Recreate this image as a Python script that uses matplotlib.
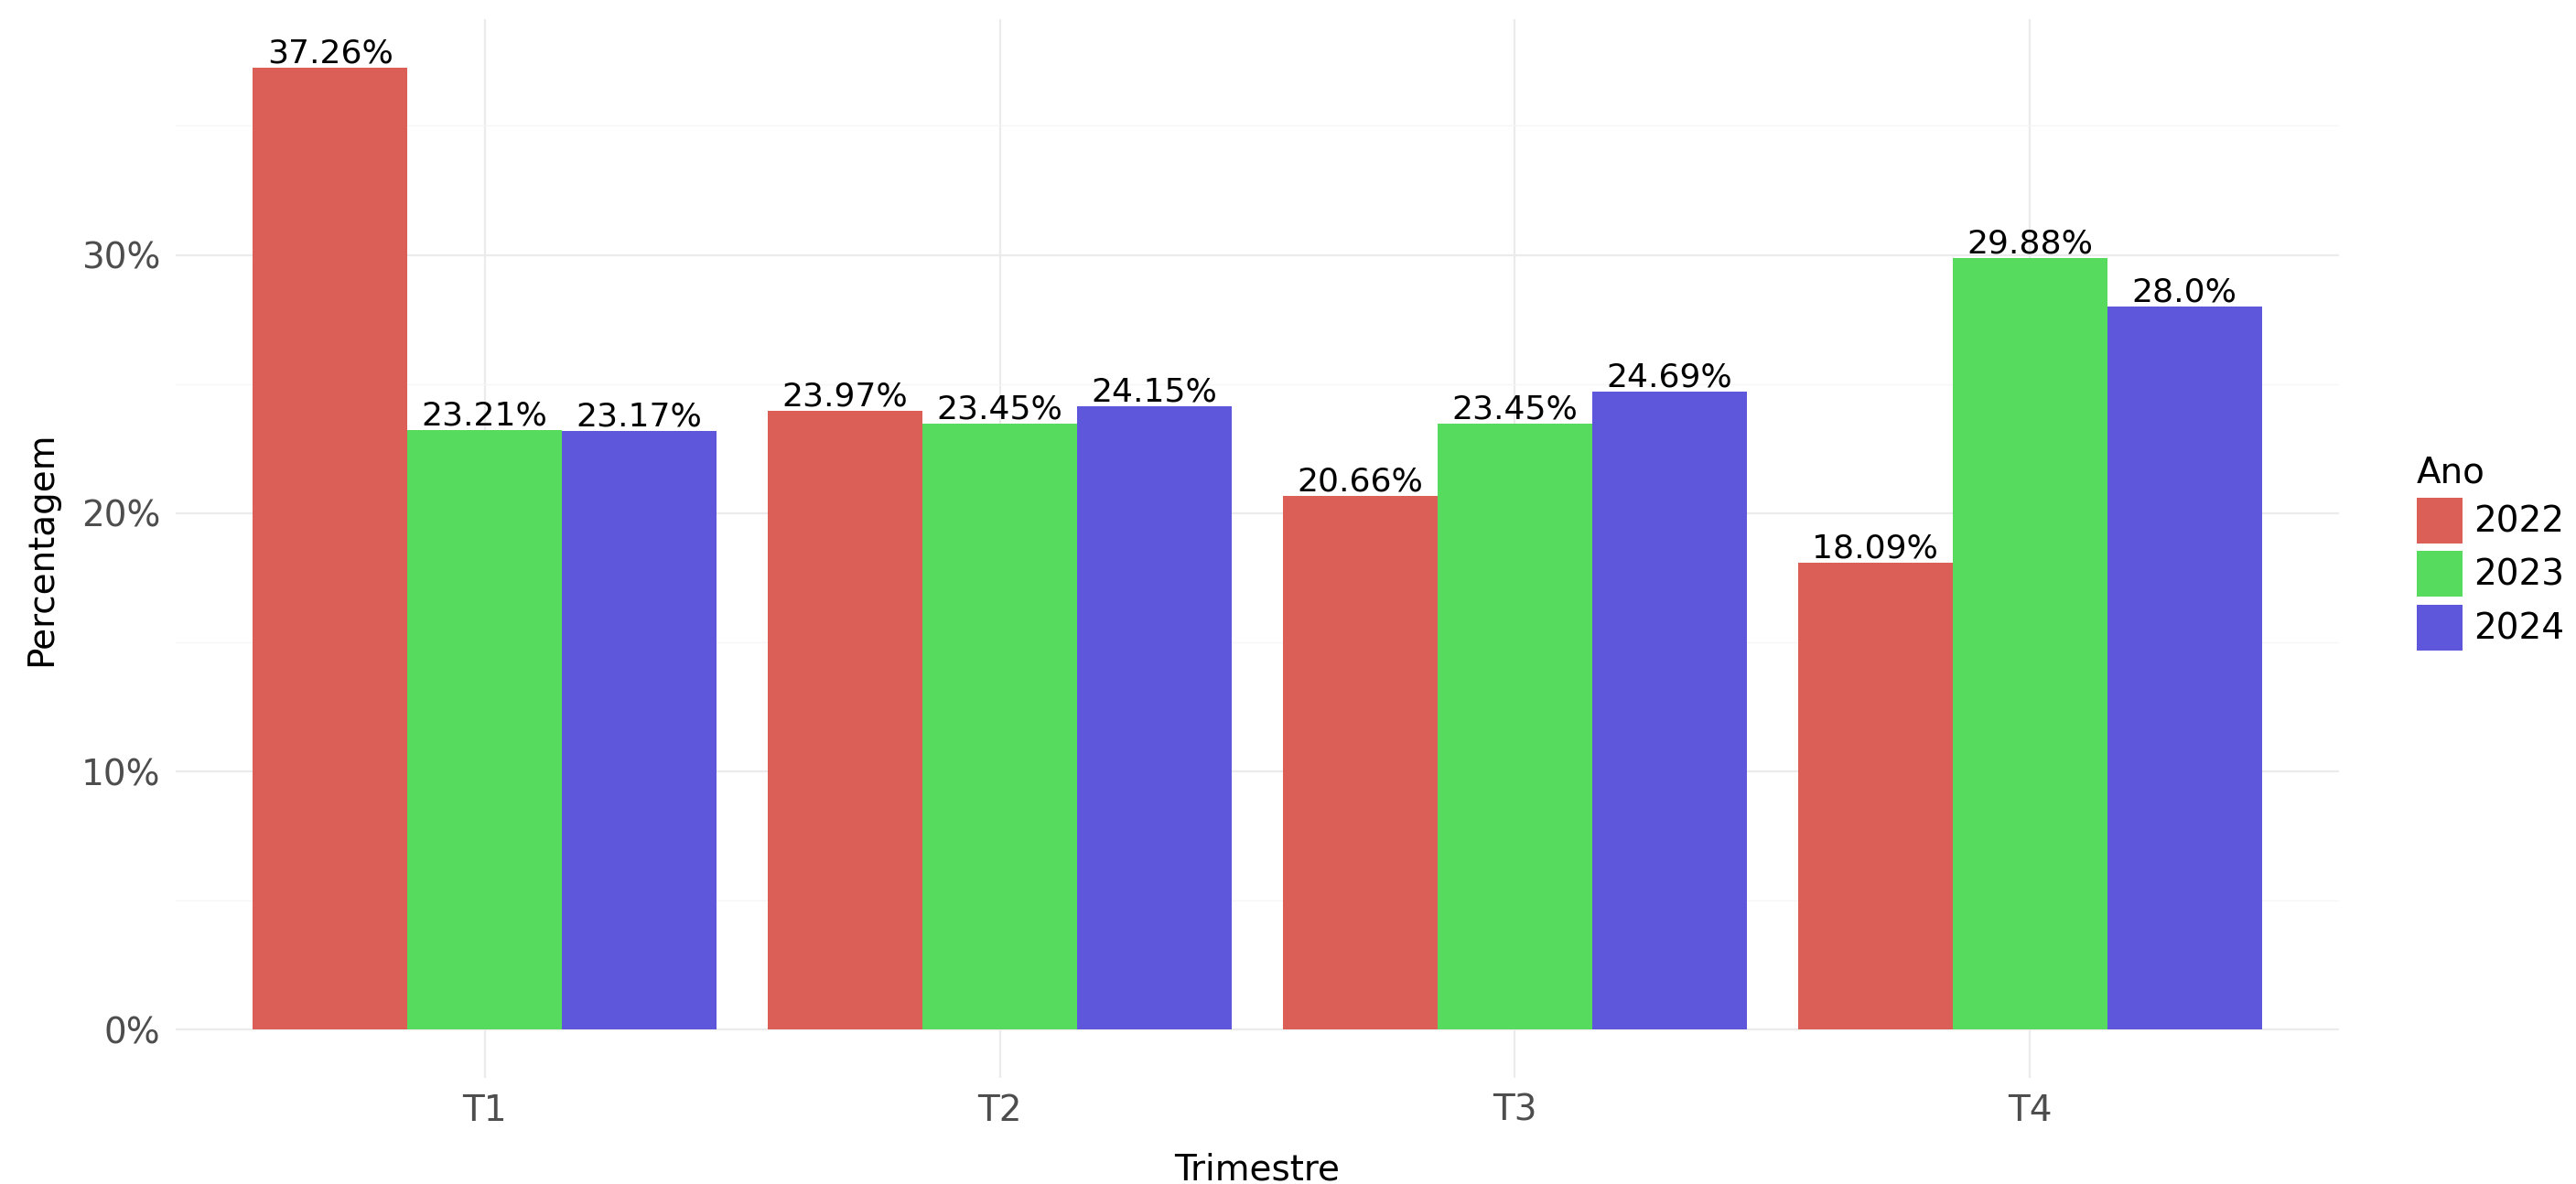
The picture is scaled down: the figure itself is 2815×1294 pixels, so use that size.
#!/usr/bin/env python3
"""Percentagem por trimestre e ano (barras agrupadas)."""

import matplotlib

matplotlib.use("Agg")
import matplotlib.pyplot as plt
import numpy as np
from matplotlib.ticker import FixedLocator, FuncFormatter

trimestres = ["T1", "T2", "T3", "T4"]
anos = ["2022", "2023", "2024"]
pct_2022 = [37.26, 23.97, 20.66, 18.09]
pct_2023 = [23.21, 23.45, 23.45, 29.88]
pct_2024 = [23.17, 24.15, 24.69, 28.0]
cores = ["#db5f57", "#57db5f", "#5f57db"]

W, H, DPI = 2815, 1294, 100

plt.rcParams["font.family"] = ["DejaVu Sans"]


def main() -> None:
    series = [pct_2022, pct_2023, pct_2024]
    fig = plt.figure(figsize=(W / DPI, H / DPI), dpi=DPI)
    left, right, top, bottom = 192, 2556, 21, 1178
    ax = fig.add_axes([left / W, 1 - bottom / H, (right - left) / W, (bottom - top) / H])

    x = np.arange(1, len(trimestres) + 1)
    width = 0.9 / len(anos)
    for i, (ano, vals, cor) in enumerate(zip(anos, series, cores)):
        pos = x + (i - 1) * width
        ax.bar(pos, vals, width=width, color=cor, label=ano, zorder=3, linewidth=0)
        for px, v in zip(pos, vals):
            ax.annotate(f"{v}%", (px, v), xytext=(0, 4), textcoords="offset points",
                        ha="center", va="baseline", fontsize=26, color="black", zorder=4)

    ymax = max(max(s) for s in series)
    pad = ymax * 0.05
    ax.set_ylim(-pad, ymax + pad)
    ax.set_xlim(0.4, len(trimestres) + 0.6)

    ax.yaxis.set_major_locator(FixedLocator([0, 10, 20, 30]))
    ax.yaxis.set_minor_locator(FixedLocator([5, 15, 25, 35]))
    ax.yaxis.set_major_formatter(FuncFormatter(lambda v, _: f"{v:.0f}%"))
    ax.set_xticks(x)
    ax.set_xticklabels(trimestres)

    ax.grid(True, which="major", color="#ebebeb", linewidth=1.6, zorder=0)
    ax.grid(True, which="minor", axis="y", color="#f6f6f6", linewidth=0.9, zorder=0)
    for s in ax.spines.values():
        s.set_visible(False)
    ax.tick_params(axis="both", which="both", length=0, labelsize=28, labelcolor="#4d4d4d")
    ax.tick_params(axis="x", pad=12)
    ax.tick_params(axis="y", pad=12)

    ax.set_xlabel("Trimestre", fontsize=28, labelpad=19)
    ax.set_ylabel("Percentagem", fontsize=28, labelpad=18)

    leg = ax.legend(title="Ano", loc="upper left", bbox_to_anchor=(2641 / W, 1 - 497 / H),
                    bbox_transform=fig.transFigure, frameon=False, fontsize=28,
                    title_fontsize=28, handlelength=1.285, handleheight=1.6,
                    labelspacing=0.22, handletextpad=0.3, borderaxespad=0, borderpad=0)
    leg._legend_box.align = "left"

    fig.savefig("out.png", dpi=DPI, facecolor="white")
    plt.close(fig)


if __name__ == "__main__":
    main()
